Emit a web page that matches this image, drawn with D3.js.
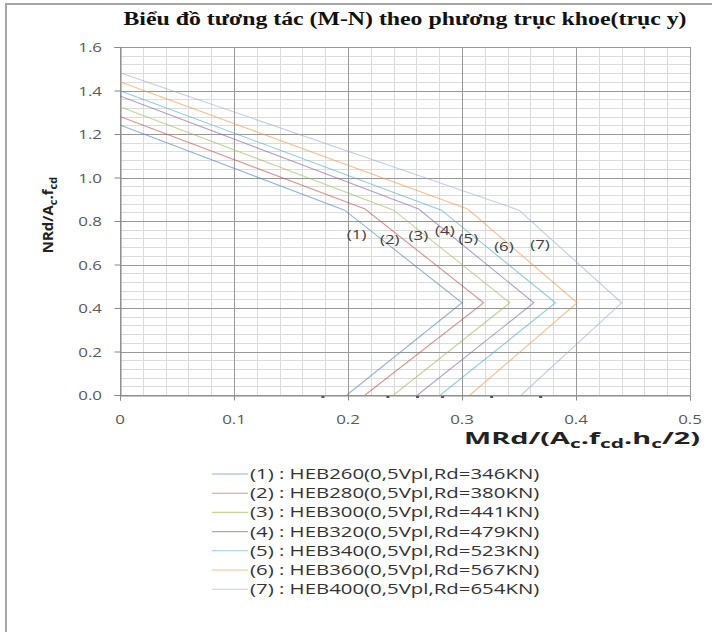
<!DOCTYPE html>
<html>
<head>
<meta charset="utf-8">
<script src="https://cdn.jsdelivr.net/npm/d3@7/dist/d3.min.js"></script>
<style>
  body { margin: 0; background: #fff; }
  svg { display: block; }
</style>
</head>
<body>
<div id="chart"></div>
<script>
// series names
const names = [
  "(1) : HEB260(0,5Vpl,Rd=346KN)",
  "(2) : HEB280(0,5Vpl,Rd=380KN)",
  "(3) : HEB300(0,5Vpl,Rd=441KN)",
  "(4) : HEB320(0,5Vpl,Rd=479KN)",
  "(5) : HEB340(0,5Vpl,Rd=523KN)",
  "(6) : HEB360(0,5Vpl,Rd=567KN)",
  "(7) : HEB400(0,5Vpl,Rd=654KN)"
];
const labels = ["(1)", "(2)", "(3)", "(4)", "(5)", "(6)", "(7)"];
const colors = ["#4F81BD", "#C0504D", "#9BBB59", "#8064A2", "#4BACC6", "#F79646", "#9AAAD8"];

// points A (M=0), C, D, B for each curve
const nA = [1.241, 1.28, 1.325, 1.375, 1.399, 1.44, 1.482];
const mC = [0.197, 0.215, 0.240, 0.262, 0.282, 0.305, 0.350];
const nC = [0.85, 0.855, 0.85, 0.855, 0.85, 0.855, 0.85];
const mD = [0.300, 0.319, 0.342, 0.363, 0.382, 0.401, 0.440];
const nD = [0.424, 0.424, 0.424, 0.424, 0.424, 0.424, 0.424];
const mB = [0.199, 0.215, 0.240, 0.261, 0.281, 0.307, 0.352];

// label positions
const labM = [0.2076, 0.2366, 0.2617, 0.285, 0.3056, 0.3368, 0.3684];
const labN = [0.739, 0.715, 0.736, 0.759, 0.720, 0.685, 0.692];

// little dark marks sitting on the M axis
const baseMarks = [0.178, 0.235, 0.261, 0.283, 0.326, 0.369];

const xTicks = [0, 0.1, 0.2, 0.3, 0.4, 0.5];
const yTicks = [0, 0.2, 0.4, 0.6, 0.8, 1.0, 1.2, 1.4, 1.6];

const W = 712, H = 632;
const SX = 1.3; // the source picture is stretched sideways
const FONT = 'Open Sans, sans-serif';

const svg = d3.select('#chart').append('svg')
  .attr('width', W).attr('height', H);

// outer frame
svg.append('rect')
  .attr('x', 6).attr('y', 4)
  .attr('width', W).attr('height', H)
  .attr('fill', 'none').attr('stroke', '#a6a6a6').attr('stroke-width', 2);

const x = d3.scaleLinear().domain([0, 0.5]).range([120, 690]);
const y = d3.scaleLinear().domain([0, 1.6]).range([395, 47]);
const px = v => Math.round(x(v)) + 0.5;
const py = v => Math.round(y(v)) + 0.5;

// stretched text helper: returns the <text> placed in a scaled group
function stext(parent, tx, ty, anchor, size, sx = SX) {
  return parent.append('g')
    .attr('transform', `translate(${tx},${ty}) scale(${sx},1)`)
    .append('text')
    .attr('text-anchor', anchor)
    .style('font-family', FONT)
    .style('font-size', size + 'px');
}

// minor grid
const g = svg.append('g');
g.selectAll('.vmin').data(d3.range(0, 0.5001, 0.02))
  .enter().append('line')
  .attr('x1', d => px(d)).attr('x2', d => px(d))
  .attr('y1', y(0)).attr('y2', y(1.6))
  .attr('stroke', '#dcdcdc');
g.selectAll('.hmin').data(d3.range(0, 1.6001, 0.04))
  .enter().append('line')
  .attr('x1', x(0)).attr('x2', x(0.5))
  .attr('y1', d => py(d)).attr('y2', d => py(d))
  .attr('stroke', '#dcdcdc');
// major grid
g.selectAll('.vmaj').data(xTicks)
  .enter().append('line')
  .attr('x1', d => px(d)).attr('x2', d => px(d))
  .attr('y1', y(0)).attr('y2', y(1.6))
  .attr('stroke', '#999');
g.selectAll('.hmaj').data(yTicks)
  .enter().append('line')
  .attr('x1', x(0)).attr('x2', x(0.5))
  .attr('y1', d => py(d)).attr('y2', d => py(d))
  .attr('stroke', '#999');

// axes (lines and ticks from d3, labels drawn stretched)
const xAxis = d3.axisBottom(x).tickValues(xTicks).tickFormat('').tickSize(5);
const yAxis = d3.axisLeft(y).tickValues(yTicks).tickFormat('').tickSize(6);
const ax = svg.append('g').attr('transform', `translate(0,${py(0)})`).call(xAxis);
const ay = svg.append('g').attr('transform', `translate(${px(0)},0)`).call(yAxis);
for (const a of [ax, ay]) {
  a.select('.domain').attr('stroke', '#888');
  a.selectAll('.tick line').attr('stroke', '#888');
}
xTicks.forEach(t => {
  stext(svg, x(t), 424, 'middle', 13)
    .attr('fill', '#595959')
    .text(t === 0 ? '0' : d3.format('.1f')(t));
});
yTicks.forEach(t => {
  stext(svg, 102, y(t) + 5, 'end', 13)
    .attr('fill', '#595959')
    .text(d3.format('.1f')(t));
});

// dark marks at the baseline
svg.selectAll('.bm').data(baseMarks)
  .enter().append('rect')
  .attr('x', d => x(d) - 1.5).attr('y', y(0) + 1)
  .attr('width', 3).attr('height', 2)
  .attr('fill', '#555');

// curves
const curves = names.map((n, i) => [
  [0, nA[i]], [mC[i], nC[i]], [mD[i], nD[i]], [mB[i], 0]
]);
const line = d3.line().x(d => x(d[0])).y(d => y(d[1]));
svg.selectAll('.curve').data(curves)
  .enter().append('path')
  .attr('d', line)
  .attr('fill', 'none')
  .attr('stroke', (d, i) => colors[i])
  .attr('stroke-opacity', 0.6)
  .attr('stroke-width', 1.1);

// curve labels
labels.forEach((l, i) => {
  stext(svg, x(labM[i]), y(labN[i]) + 5, 'middle', 13)
    .attr('fill', '#404040')
    .text(l);
});

// title
svg.append('text')
  .attr('x', 405).attr('y', 25)
  .attr('text-anchor', 'middle')
  .attr('textLength', 563)
  .attr('lengthAdjust', 'spacingAndGlyphs')
  .style('font-family', 'Liberation Serif, serif')
  .style('font-weight', 'bold')
  .style('font-size', '18px')
  .attr('fill', '#111')
  .text('Biểu đồ tương tác (M-N) theo phương trục khoe(trục y)');

// y axis title
const yt = svg.append('text')
  .attr('transform', 'translate(53,215) rotate(-90)')
  .attr('text-anchor', 'middle')
  .style('font-family', FONT)
  .style('font-weight', 'bold')
  .style('font-size', '15px')
  .attr('fill', '#222');
yt.append('tspan').text('NRd/A');
yt.append('tspan').attr('dy', 4).style('font-size', '11px').text('c');
yt.append('tspan').attr('dy', -4).text('.f');
yt.append('tspan').attr('dy', 4).style('font-size', '11px').text('cd');

// x axis title, widened to span 462..700 as in the picture
const xt = stext(svg, 700, 444, 'end', 16.5)
  .style('font-weight', 'bold')
  .attr('fill', '#222');
xt.append('tspan').text('MRd/(A');
xt.append('tspan').attr('dy', 4).style('font-size', '12px').text('c');
xt.append('tspan').attr('dy', -4).text('.f');
xt.append('tspan').attr('dy', 4).style('font-size', '12px').text('cd');
xt.append('tspan').attr('dy', -4).text('.h');
xt.append('tspan').attr('dy', 4).style('font-size', '12px').text('c');
xt.append('tspan').attr('dy', -4).text('/2)');
const xtw = xt.node().getBBox().width;
d3.select(xt.node().parentNode).attr('transform', `translate(700,444) scale(${236 / xtw},1)`);

// legend
const leg = svg.append('g').attr('transform', 'translate(212,474)');
names.forEach((n, i) => {
  const row = leg.append('g').attr('transform', `translate(0,${i * 19.2})`);
  row.append('line')
    .attr('x1', 0).attr('x2', 36)
    .attr('stroke', colors[i])
    .attr('stroke-opacity', 0.6)
    .attr('stroke-width', 1.1);
  stext(row, 38, 5, 'start', 15, 1.36)
    .attr('fill', '#333')
    .text(n);
});
</script>
</body>
</html>
